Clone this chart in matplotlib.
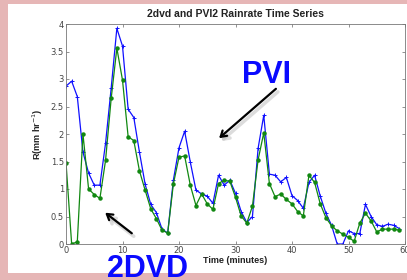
import matplotlib
matplotlib.use('agg')
import matplotlib.pyplot as plt
from matplotlib.patches import Rectangle, FancyArrowPatch

# rain rate per minute (mm/hr)
minutes = list(range(60))
pvi = [2.87, 2.96, 2.68, 1.67, 1.29, 1.07, 1.07, 1.83, 2.84, 3.92,
       3.60, 2.45, 2.30, 1.67, 1.09, 0.72, 0.57, 0.27, 0.20, 1.16,
       1.75, 2.05, 1.49, 0.98, 0.91, 0.87, 0.74, 1.25, 1.07, 1.16,
       0.92, 0.59, 0.39, 0.50, 1.74, 2.34, 1.27, 1.25, 1.13, 1.21,
       0.88, 0.79, 0.65, 1.12, 1.25, 0.87, 0.56, 0.34, 0.00, 0.00,
       0.24, 0.19, 0.19, 0.72, 0.50, 0.35, 0.32, 0.36, 0.34, 0.28]
dvd = [1.48, 0.00, 0.04, 2.00, 1.00, 0.90, 0.83, 1.52, 2.65, 3.56,
       2.98, 1.95, 1.88, 1.33, 0.98, 0.64, 0.46, 0.25, 0.20, 1.09,
       1.58, 1.60, 1.07, 0.70, 0.91, 0.73, 0.63, 1.10, 1.16, 1.14,
       0.85, 0.51, 0.38, 0.69, 1.53, 2.02, 1.10, 0.86, 0.91, 0.81,
       0.73, 0.59, 0.51, 1.25, 1.12, 0.73, 0.48, 0.33, 0.24, 0.18,
       0.12, 0.05, 0.38, 0.56, 0.42, 0.22, 0.27, 0.27, 0.27, 0.25]
xticks = [0, 10, 20, 30, 40, 50, 60]
yticks = [0, 0.5, 1, 1.5, 2, 2.5, 3, 3.5, 4]

W, H = 407, 280
fig = plt.figure(figsize=(W / 100, H / 100), dpi=100)
fig.patch.set_facecolor('#e6b6b6')
# white slide panel
fig.add_artist(Rectangle((8 / W, 1 - 273 / H), (W - 8) / W, 269 / H,
                         transform=fig.transFigure, facecolor='white',
                         edgecolor='none', zorder=0))

ax = fig.add_axes([66 / W, 1 - 244 / H, 339 / W, 220 / H])
ax.plot(minutes, pvi, color='#1010ff', marker='+', ms=3.5, mew=0.7, lw=0.9)
ax.plot(minutes, dvd, color='#118811', marker='o', ms=2.2, lw=0.9)

ax.set_xlim(0, 60)
ax.set_ylim(0, 4)
ax.set_xticks(xticks)
ax.set_xticklabels([str(t) for t in xticks])
ax.set_yticks(yticks)
ax.set_yticklabels(['%g' % t for t in yticks])
ax.tick_params(direction='in', length=2.5, width=0.5, labelsize=6,
               labelcolor='#444444', color='#666666', top=True, right=True, pad=1.5)
for s in ax.spines.values():
    s.set_linewidth(0.6)
    s.set_color('#777777')

ax.set_title('2dvd and PVI2 Rainrate Time Series', fontsize=7.5,
             fontweight='bold', family='Liberation Sans', color='#222222', pad=5)
ax.set_xlabel('Time (minutes)', fontsize=6.5, fontweight='bold',
              family='Liberation Sans', color='#222222', labelpad=1)
ax.set_ylabel('R(mm hr$^{-1}$)', fontsize=6.5, fontweight='bold',
              family='Liberation Sans', color='#222222', labelpad=4)

# big labels with arrows
def fp(x, y):
    return (x / W, 1 - y / H)

fig.text(*fp(266, 83), 'PVI', color='#0a0aff', fontsize=22, fontweight='bold',
         family='Liberation Sans', ha='center', va='baseline', zorder=5)
fig.text(*fp(148, 277), '2DVD', color='#0a0aff', fontsize=22, fontweight='bold',
         family='Liberation Sans', ha='center', va='baseline', zorder=5)

for (tail, head) in [((278, 87), (217, 140)), ((134, 235), (103, 211))]:
    # soft shadow
    fig.add_artist(FancyArrowPatch(
        fp(tail[0] + 2, tail[1] + 3), fp(head[0] + 2, head[1] + 3),
        transform=fig.transFigure, arrowstyle='->,head_length=4,head_width=2.5',
        lw=2.5, color='#bbbbbb', alpha=0.5, zorder=4))
    fig.add_artist(FancyArrowPatch(
        fp(*tail), fp(*head), transform=fig.transFigure,
        arrowstyle='->,head_length=4,head_width=2.5', lw=1.6, color='black',
        zorder=5))

fig.savefig('out.png', dpi=100, facecolor=fig.get_facecolor())
